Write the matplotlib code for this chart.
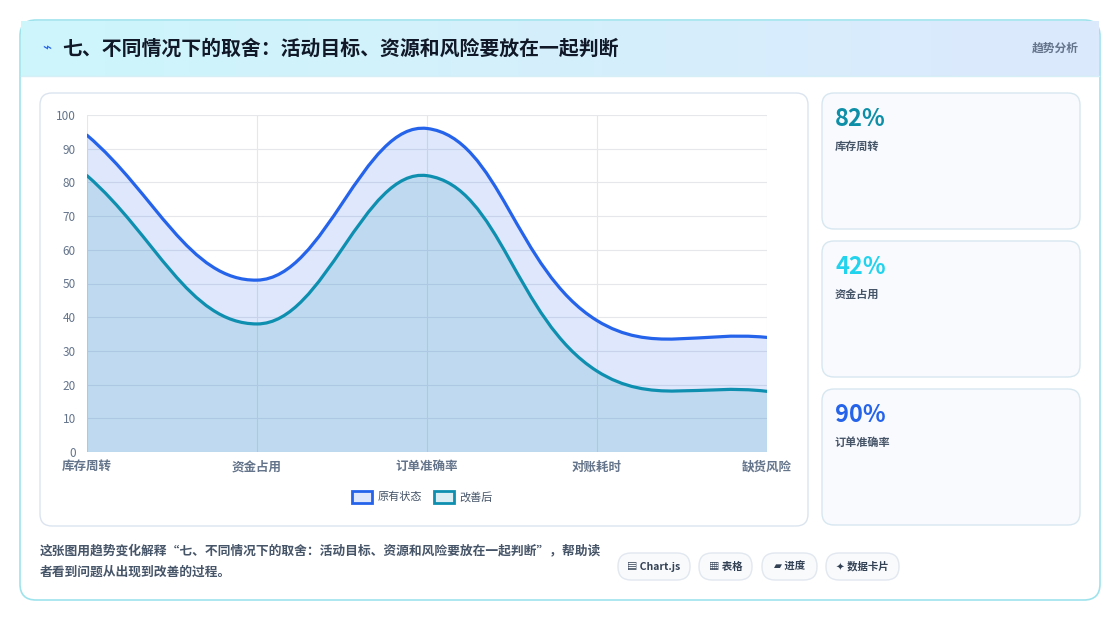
import matplotlib
matplotlib.use("Agg")
import matplotlib.pyplot as plt
from matplotlib.patches import FancyBboxPatch, PathPatch, Rectangle
from matplotlib.path import Path
import numpy as np

plt.rcParams['font.family'] = ['Noto Sans CJK SC', 'DejaVu Sans']

categories = ["库存周转", "资金占用", "订单准确率", "对账耗时", "缺货风险"]
original = [94, 51, 96, 39, 34]
improved = [82, 38, 82, 24, 18]
series_names = ["原有状态", "改善后"]
stat_values = ["82%", "42%", "90%"]
stat_labels = ["库存周转", "资金占用", "订单准确率"]
stat_colors = ["#0e8fa8", "#22d3ee", "#2563eb"]
title = "七、不同情况下的取舍：活动目标、资源和风险要放在一起判断"
footer = ["这张图用趋势变化解释“七、不同情况下的取舍：活动目标、资源和风险要放在一起判断”，帮助读",
          "者看到问题从出现到改善的过程。"]
pills = ["▤ Chart.js", "▦ 表格", "▰ 进度", "✦ 数据卡片"]

W, H = 1120, 620
fig = plt.figure(figsize=(W/100, H/100), dpi=100)
bg = fig.add_axes([0, 0, 1, 1])
bg.set_xlim(0, W); bg.set_ylim(H, 0); bg.axis('off')

def rbox(x, y, w, h, r, fc, ec, lw=1, z=1):
    bg.add_patch(FancyBboxPatch((x, y), w, h, boxstyle=f"round,pad=0,rounding_size={r}",
                                fc=fc, ec=ec, lw=lw, zorder=z))

rbox(20, 20, 1080, 580, 16, "white", "#9ee3ec", 1.2)
grad = np.linspace(0, 1, 256)[None, :]
from matplotlib.colors import LinearSegmentedColormap
cm = LinearSegmentedColormap.from_list("g", ["#cdf6fb", "#dce9fd"])
bg.imshow(grad, cmap=cm, extent=(21, 1099, 76, 21), aspect='auto', zorder=2)
bg.plot([21, 1099], [76, 76], color="#d6eef5", lw=1, zorder=3)
bg.text(42, 48, "⌁", color="#2563eb", fontsize=11, va='center', zorder=4, family=['DejaVu Sans'])
bg.text(62, 48, title, fontsize=14.3, fontweight='bold', color="#111827", va='center', zorder=4)
bg.text(1079, 48, "趋势分析", fontsize=8.5, color="#64748b", va='center', ha='right', fontweight='bold', zorder=4)

rbox(40, 93, 768, 433, 12, "white", "#dbe4ee", 1, 1)
for i in range(3):
    y = 93 + i*148
    rbox(822, y, 258, 136, 12, "#f8fafe", "#d7e7f0", 1, 1)
    bg.text(835, y+26, stat_values[i], fontsize=17, fontweight='heavy', color=stat_colors[i], va='center', zorder=4)
    bg.text(835, y+53, stat_labels[i], fontsize=8, color="#475569", va='center', fontweight='bold', zorder=4)

bg.text(40, 551, footer[0], fontsize=9.2, color="#475569", va='center', fontweight='bold')
bg.text(40, 572, footer[1], fontsize=9.2, color="#475569", va='center', fontweight='bold')
px = [(618, 72), (699, 53), (762, 55), (826, 73)]
for (x, w), t in zip(px, pills):
    rbox(x, 553, w, 27, 13, "#f8fafc", "#e2e8f0", 1, 1)
    bg.text(x + w/2, 566.5, t, fontsize=7.5, color="#334155", ha='center', va='center', fontweight='bold')

ax = fig.add_axes([87/W, 1-452/H, 680/W, 337/H])
ax.set_xlim(0, len(categories)-1); ax.set_ylim(0, 100)
ax.set_yticks(range(0, 101, 10))
ax.set_xticks(range(len(categories)))
ax.set_xticklabels(categories, fontsize=9, color="#64748b", fontweight='bold')
ax.tick_params(axis='y', labelsize=8.5, colors="#64748b", length=0, pad=8)
ax.tick_params(axis='x', length=0, pad=6)
ax.grid(color="#e5e7eb", lw=0.8)
for s in ax.spines.values(): s.set_visible(False)
ax.set_axisbelow(True)

def bezier(vals, t=0.4):
    sx, sy = 170.0, 3.37
    pts = np.array([[i*sx, v*sy] for i, v in enumerate(vals)])
    n = len(pts)
    verts = [tuple(pts[0])]; codes = [Path.MOVETO]
    cps = []
    for i in range(n):
        prev = pts[max(i-1, 0)]; cur = pts[i]; nxt = pts[min(i+1, n-1)]
        d01 = np.hypot(*(cur-prev)); d12 = np.hypot(*(nxt-cur))
        s01 = d01/(d01+d12) if d01+d12 else 0; s12 = d12/(d01+d12) if d01+d12 else 0
        cps.append((cur - t*s01*(nxt-prev), cur + t*s12*(nxt-prev)))
    for i in range(1, n):
        verts += [tuple(cps[i-1][1]), tuple(cps[i][0]), tuple(pts[i])]
        codes += [Path.CURVE4]*3
    verts = [(x/sx, min(max(y/sy, 0), 100)) for x, y in verts]
    return verts, codes

colors = ["#2563eb", "#0e8fb0"]
fills = [(37/255, 99/255, 235/255, 0.15), (14/255, 143/255, 176/255, 0.15)]
for vals, c, f in zip([original, improved], colors, fills):
    v, cd = bezier(vals)
    fv = v + [(len(vals)-1, 0), (0, 0), (0, 0)]
    fc = cd + [Path.LINETO, Path.LINETO, Path.CLOSEPOLY]
    ax.add_patch(PathPatch(Path(fv, fc), fc=f, ec='none'))
    ax.add_patch(PathPatch(Path(v, cd), fc='none', ec=c, lw=2.3, capstyle='round'))

for (x, tx), c, f, name in zip([(352, 378), (434, 459)], colors, fills, series_names):
    bg.add_patch(Rectangle((x, 491), 20, 12, fc=f, ec=c, lw=2, zorder=5))
    bg.text(tx, 497, name, fontsize=8, color="#475569", va='center', zorder=5)

fig.savefig("out.png", dpi=100)
